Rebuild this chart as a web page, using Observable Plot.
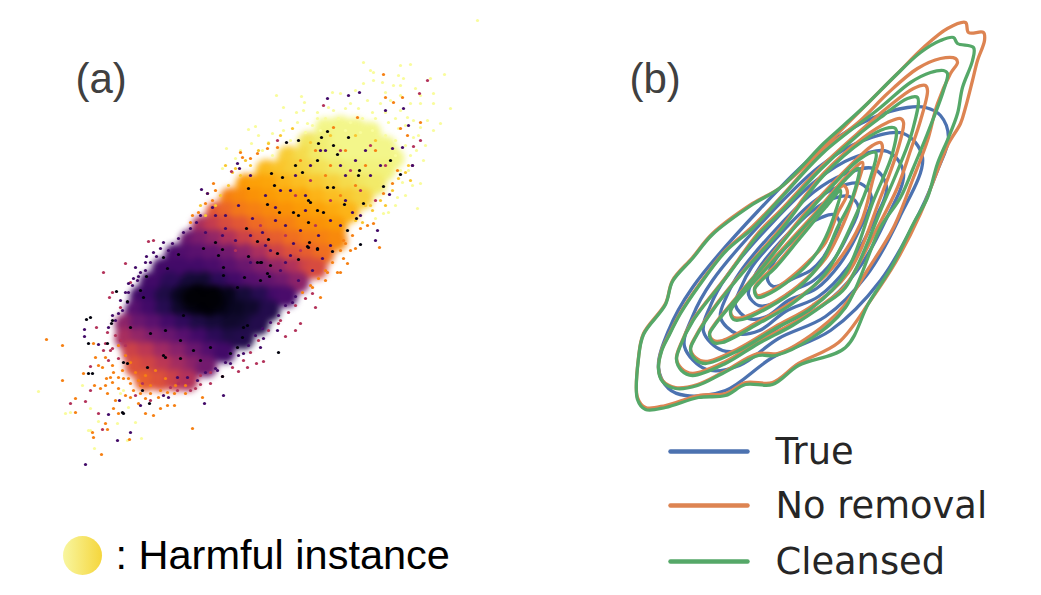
<!DOCTYPE html>
<html><head><meta charset="utf-8">
<script src="https://cdn.jsdelivr.net/npm/d3@7"></script>
<script src="https://cdn.jsdelivr.net/npm/@observablehq/plot@0.6"></script>
<style>html,body{margin:0;padding:0;background:#fff}svg{display:block}</style>
</head><body><div id="chart"></div>
<script>
// Panel (a): dense body of the cloud, [x, y, harm score]
const cloudBody = [
[325,128,.97],[340,126,.97],[355,128,.97],[370,132,.97],
[308,142,.93],[324,142,.95],[340,142,.97],[356,142,.97],[372,142,.97],[385,146,.97],
[288,156,.88],[303,156,.91],[318,156,.94],[333,156,.96],[349,156,.97],[365,156,.97],[381,156,.97],[393,158,.97],
[266,170,.84],[280,170,.86],[294,170,.88],[308,170,.9],[322,170,.92],[338,170,.94],[354,170,.95],[370,170,.96],[384,170,.96],
[246,184,.78],[258,184,.79],[271,184,.8],[285,184,.83],[301,184,.85],[317,184,.87],[333,184,.89],[349,184,.91],[364,184,.93],[375,184,.94],
[230,198,.72],[242,198,.74],[256,198,.76],[270,198,.78],[286,198,.79],[302,198,.8],[318,198,.83],[334,198,.85],[350,198,.87],[362,198,.89],
[216,212,.62],[228,212,.66],[241,212,.7],[255,212,.72],[271,212,.74],[287,212,.76],[303,212,.78],[319,212,.79],[335,212,.81],[348,212,.83],
[202,226,.45],[214,226,.52],[227,226,.58],[241,226,.62],[257,226,.67],[273,226,.7],[289,226,.72],[305,226,.75],[321,226,.76],[336,226,.78],
[190,240,.3],[202,240,.34],[216,240,.4],[230,240,.47],[246,240,.55],[262,240,.6],[278,240,.64],[294,240,.68],[310,240,.71],[326,240,.72],[336,240,.74],
[175,254,.22],[186,254,.24],[198,254,.26],[213,254,.28],[229,254,.32],[245,254,.38],[261,254,.46],[277,254,.55],[293,254,.6],[309,254,.64],[323,254,.68],
[162,268,.2],[180,268,.2],[198,268,.2],[214,268,.22],[230,268,.26],[246,268,.3],[262,268,.35],[278,268,.4],[294,268,.47],[308,268,.55],[316,268,.58],
[150,282,.2],[170,282,.15],[190,282,.1],[204,282,.09],[220,282,.15],[236,282,.2],[252,282,.25],[268,282,.28],[284,282,.32],[298,282,.38],
[140,296,.2],[150,296,.18],[165,296,.12],[181,296,.06],[197,296,.01],[213,296,.01],[229,296,.05],[245,296,.1],[261,296,.14],[277,296,.2],[286,296,.22],
[135,310,.25],[150,310,.2],[165,310,.14],[181,310,.08],[195,310,.05],[205,310,.03],[221,310,.04],[237,310,.06],[253,310,.08],[269,310,.13],
[125,324,.38],[140,324,.3],[155,324,.26],[170,324,.2],[185,324,.16],[200,324,.12],[216,324,.1],[232,324,.08],[248,324,.09],[258,324,.13],
[125,338,.45],[140,338,.4],[155,338,.34],[170,338,.3],[185,338,.25],[200,338,.2],[216,338,.15],[232,338,.12],[243,338,.13],
[132,352,.55],[147,352,.5],[163,352,.43],[179,352,.37],[195,352,.3],[211,352,.24],[224,352,.2],
[135,366,.6],[150,366,.56],[165,366,.5],[180,366,.44],[195,366,.38],[206,366,.32],
[145,380,.64],[160,380,.6],[175,380,.55],[187,380,.48]
];
const harmCore = [[203,300,0],[198,296,0],[208,303,0],[214,300,.01],[190,298,.01]];
// Panel (a): individually visible dots, one list per harm level
const dotsPale = [[477,20],[363,62],[370,70],[400,65],[410,64],[373,72],[398,75],[403,78],[430,78],[444,74],[363,83],[373,80],[385,92],[393,85],[400,95],[433,93],[420,95],[450,108],[433,103],[420,103],[410,103],[427,120],[440,123],[433,130],[420,127],[413,120],[420,183],[417,208],[405,195],[397,197],[383,213],[276,95],[283,107],[301,96],[304,102],[303,110],[317,112],[328,107],[332,92],[340,93],[350,103],[248,129],[255,126],[251,143],[226,148],[222,168],[272,133],[283,130],[297,122],[307,123],[317,118],[333,110],[367,100],[380,103],[390,100],[400,110],[407,117],[413,137],[423,160],[400,170],[395,155],[82,385],[65,413],[70,412],[90,408],[88,430],[90,430],[98,421],[135,422],[141,438],[94,448],[127,440],[117,423],[128,407],[120,393],[123,390],[38,391],[350,122],[362,118],[375,118],[388,122],[345,130],[360,132],[372,130],[385,135],[398,128],[405,145],[395,140],[410,155],[290,140],[305,132],[320,130],[262,150],[272,155],[345,108],[358,108],[372,112],[385,112],[395,118],[405,125],[418,135],[425,145],[416,150],[408,170],[412,185],[402,182],[395,205],[388,212],[375,218],[296,112],[312,125],[325,118],[338,118],[280,120],[268,142],[258,135],[240,150],[235,158],[400,85],[415,88],[382,82],[355,90]];
const dotsGold = [[250,165],[240,175],[228,185],[220,195],[258,150],[268,143],[280,135],[292,128],[245,160],[232,172],[215,205],[205,215],[200,205],[225,165],[235,168],[365,205],[372,210],[380,200],[385,205],[392,190],[398,178],[408,165],[410,180],[405,172],[355,220],[362,222],[370,205],[310,142],[330,135],[375,140],[355,135]];
const dotsOrange = [[46,339],[62,345],[62,380],[75,398],[75,412],[83,373],[93,343],[95,357],[98,365],[102,367],[105,357],[112,365],[113,372],[106,378],[110,377],[118,377],[123,378],[94,385],[100,388],[107,393],[115,400],[118,413],[113,408],[107,429],[105,423],[93,437],[101,454],[92,432],[129,439],[192,428],[202,397],[174,405],[167,405],[160,408],[153,415],[145,413],[138,403],[130,397],[133,390],[140,393],[150,393],[158,397],[167,392],[174,393],[185,393],[130,383],[138,380],[312,287],[320,297],[325,280],[327,272],[337,272],[340,272],[347,263],[355,248],[379,247],[343,258],[343,240],[350,250],[367,225],[373,223],[213,183],[207,193],[240,152],[242,157],[250,158],[257,153],[267,148],[277,147],[333,127],[357,117],[383,74],[385,97],[393,102],[402,97],[420,122],[400,128],[407,135],[392,183],[383,193],[397,170],[345,150],[365,165],[330,165],[315,150],[300,160],[375,150],[355,185],[340,195],[325,175],[118,345],[125,355],[130,362],[122,370],[135,372],[145,375],[155,370],[165,378],[175,385],[185,385],[150,385],[140,385],[128,378],[118,388],[112,382],[105,385],[125,395],[145,398],[160,390],[340,250],[332,262],[325,270],[318,278],[310,285],[302,292],[345,243],[352,235],[360,228],[215,190],[205,203],[198,212],[190,222],[192,215],[212,200]];
const dotsMagenta = [[103,272],[125,263],[153,240],[148,241],[70,403],[98,413],[102,429],[85,401],[90,366],[315,307],[300,323],[295,330],[285,336],[278,323],[263,361],[256,363],[247,367],[238,371],[222,376],[210,383],[200,384],[190,390],[177,390],[170,387],[112,292],[109,297],[120,307],[130,282],[96,327],[107,332],[105,343],[103,350],[110,350],[90,390],[427,80],[419,93],[323,105],[413,146],[412,165],[420,140],[231,171],[277,140],[340,150],[370,145],[385,165],[310,180],[295,195],[360,190],[350,170],[330,200],[375,200],[260,225],[285,235],[315,225],[235,250],[300,250],[295,305],[288,312],[280,320],[305,298],[312,293],[268,330],[258,340],[250,352],[243,360],[232,367],[120,340],[115,335],[112,348],[118,358],[125,345],[108,360],[200,375],[210,372],[188,382],[178,383],[195,388],[150,400],[135,395],[142,383]];
const dotsPurple = [[85,464],[117,440],[130,432],[204,403],[223,395],[84,329],[84,336],[98,344],[108,414],[119,400],[140,405],[163,395],[168,397],[135,267],[146,256],[163,242],[115,320],[118,313],[127,302],[128,283],[137,280],[277,330],[263,338],[260,347],[243,353],[230,363],[217,370],[197,380],[187,377],[177,377],[359,92],[348,95],[327,98],[403,108],[385,110],[408,125],[412,165],[402,147],[392,148],[389,194],[377,230],[375,240],[237,163],[239,168],[201,189],[207,193],[212,207],[320,150],[345,175],[370,175],[290,190],[305,210],[275,220],[250,235],[330,220],[290,255],[265,245],[225,215],[150,262],[156,256],[160,248],[168,250],[172,243],[178,238],[183,232],[190,228],[196,222],[200,215],[145,270],[138,276],[132,285],[125,292],[120,300],[112,315],[108,327],[215,215],[225,228],[238,205],[252,218],[262,232],[275,207],[285,225],[293,243],[305,195],[318,235],[330,245],[340,225],[352,212],[300,230],[270,250],[285,262],[250,262],[235,240],[222,235],[205,232],[322,258],[312,270],[298,280],[280,270],[345,200],[360,215],[355,160],[380,165],[365,150],[340,165],[325,150],[310,165],[295,175],[280,190],[265,195],[250,175],[295,296],[292,302],[285,305],[278,315],[270,322],[262,328],[255,335],[248,345],[238,355],[225,362],[215,368],[205,372],[145,262],[153,252],[140,272],[133,278],[122,310],[128,292]];
const dotsDark = [[327,131],[321,137],[348,137],[298,140],[286,142],[337,154],[318,143],[333,145],[295,165],[317,160],[400,174],[390,160],[358,175],[359,170],[302,172],[271,173],[274,185],[282,177],[248,188],[327,187],[333,187],[383,186],[308,200],[310,202],[323,212],[344,204],[363,203],[267,204],[293,212],[298,215],[279,212],[246,228],[317,210],[308,222],[356,218],[347,230],[360,244],[332,251],[317,248],[309,242],[307,246],[268,239],[257,241],[215,242],[222,249],[277,253],[248,256],[257,262],[261,262],[298,259],[223,275],[269,276],[244,277],[218,255],[260,262],[270,265],[308,247],[317,249],[278,352],[243,327],[247,325],[242,337],[222,376],[200,360],[163,355],[147,367],[123,362],[127,363],[88,373],[92,373],[86,319],[90,317],[112,320],[111,323],[88,343],[107,343],[116,291],[127,301],[163,257],[146,276],[178,254],[167,268],[140,290],[123,413],[122,412],[149,403],[142,390],[180,358],[165,357],[230,353],[237,347],[210,347],[193,350],[180,340],[165,330],[150,333],[130,327],[143,297],[183,315],[237,287],[260,280],[267,273],[223,267],[203,248]];
const dotLevels = {pale:.99, gold:.87, orange:.72, magenta:.48, purple:.2, dark:.02};

// Panel (b): density contours, seven levels per estimate
const trueLevels = [
[[658,367],[668,388],[685,395],[725,390],[772,357],[830,330],[880,280],[920,210],[937,170],[948,137],[940,115],[925,107],[907,107],[873,117],[823,147],[758,210],[692,287],[668,330]],
[[684,346],[706,369],[739,365],[778,338],[825,316],[866,275],[899,217],[922,157],[903,133],[860,141],[819,166],[766,217],[712,280],[692,316]],
[[703,331],[722,350],[749,347],[782,324],[822,305],[856,271],[884,222],[903,172],[887,151],[851,158],[817,179],[772,222],[726,276],[710,305]],
[[720,317],[736,333],[759,330],[785,311],[818,296],[847,267],[870,227],[886,186],[873,168],[843,174],[814,191],[777,227],[740,271],[726,296]],
[[735,305],[748,318],[766,316],[788,300],[816,288],[839,264],[858,231],[871,197],[860,183],[836,187],[812,202],[782,231],[751,267],[740,288]],
[[748,294],[758,305],[773,303],[791,291],[813,280],[832,261],[847,235],[858,207],[849,196],[830,199],[811,211],[786,235],[761,264],[752,280]],
[[767,279],[773,286],[795,277],[810,270],[822,258],[832,240],[839,222],[833,214],[821,217],[808,224],[792,240],[775,259],[769,270]]
];
const noRemovalLevels = [
[[965,22],[968,32],[983,32],[984,40],[977,60],[972,80],[965,107],[960,123],[948,143],[937,170],[920,213],[895,262],[870,300],[838,342],[798,363],[772,382],[745,382],[725,393],[698,395],[665,405],[645,407],[637,397],[638,357],[643,333],[665,303],[672,280],[692,257],[712,233],[752,203],[780,187],[823,147],[847,123],[870,100],[897,73],[923,47],[947,28]],
[[955,58],[957,62],[950,73],[937,103],[927,140],[913,177],[893,227],[868,268],[843,306],[810,335],[777,353],[757,353],[722,372],[697,384],[675,387],[662,380],[658,368],[661,350],[668,335],[680,312],[698,285],[725,250],[752,226],[780,197],[823,150],[860,120],[887,93],[917,68],[940,58]],
[[925,85],[927,90],[920,120],[910,150],[897,187],[877,227],[845,285],[825,302],[792,323],[758,341],[725,361],[692,373],[681,368],[676,358],[680,344],[692,320],[725,277],[758,232],[780,210],[820,167],[857,133],[887,107],[913,88]],
[[900,118],[903,122],[897,150],[880,197],[848,272],[812,305],[775,326],[738,348],[705,361],[695,357],[690,348],[695,336],[715,305],[745,268],[780,228],[823,173],[863,137],[887,122]],
[[880,142],[882,147],[873,177],[860,223],[828,272],[792,301],[758,321],[722,340],[713,340],[709,333],[714,324],[735,298],[765,262],[800,218],[835,180],[860,155],[872,145]],
[[862,162],[855,190],[843,223],[825,258],[798,285],[768,305],[742,317],[733,317],[730,310],[736,300],[755,278],[785,245],[815,212],[845,177]],
[[843,185],[847,192],[837,213],[825,242],[808,261],[785,281],[765,293],[757,295],[754,288],[760,279],[775,265],[800,235],[825,205]]
];
const cleansedLevels = [
[[953,37],[957,43],[973,47],[972,60],[962,87],[957,113],[948,137],[937,163],[927,197],[913,223],[892,265],[868,303],[845,347],[798,365],[772,384],[745,384],[725,395],[698,397],[665,407],[645,409],[637,399],[638,358],[643,334],[665,304],[672,281],[692,258],[712,234],[752,204],[780,187],[823,143],[843,125],[867,103],[893,77],[920,52],[940,40]],
[[943,70],[947,73],[943,90],[927,133],[913,167],[900,197],[880,227],[845,307],[812,337],[775,355],[758,355],[722,373],[697,385],[675,388],[662,381],[658,369],[661,351],[668,336],[680,313],[698,286],[725,251],[752,228],[780,198],[823,152],[880,107],[910,82],[930,72]],
[[917,97],[912,130],[900,163],[883,203],[845,287],[825,303],[792,325],[758,343],[725,363],[692,375],[681,370],[676,359],[680,345],[692,321],[725,278],[758,234],[780,212],[820,169],[857,135],[880,117],[907,98]],
[[895,128],[892,153],[873,200],[845,273],[812,307],[775,328],[738,350],[705,363],[695,359],[690,349],[695,337],[715,306],[745,269],[780,230],[823,175],[863,140],[885,128]],
[[875,152],[870,177],[853,220],[825,273],[792,303],[758,323],[722,342],[713,342],[709,334],[714,325],[735,299],[765,263],[800,220],[835,182],[860,158]],
[[858,168],[852,197],[837,227],[822,260],[798,287],[768,307],[742,319],[733,319],[730,311],[736,301],[755,280],[785,247],[815,214],[845,179]],
[[840,190],[833,217],[822,243],[808,263],[785,283],[765,295],[757,297],[754,289],[760,281],[775,267],[800,237],[825,207]]
];
const seriesNames = ["True", "No removal", "Cleansed"];
const seriesColors = ["#4c72b0", "#dd8452", "#55a868"];
const legendX = [670, 747];
const legendY = [451, 505, 561];
const panelLabels = [{t:"(a)", x:75, y:79}, {t:"(b)", x:629, y:79}];

const toDot = v => ([x, y]) => ({x, y, v});
const dots = [
  ...dotsPale.map(toDot(dotLevels.pale)), ...dotsGold.map(toDot(dotLevels.gold)), ...dotsOrange.map(toDot(dotLevels.orange)),
  ...dotsMagenta.map(toDot(dotLevels.magenta)), ...dotsPurple.map(toDot(dotLevels.purple)),
  ...dotsDark.map(toDot(dotLevels.dark))
];
const body = cloudBody.map(([x, y, v]) => ({x, y, v}));
const core = harmCore.map(([x, y, v]) => ({x, y, v}));
const contours = [trueLevels, noRemovalLevels, cleansedLevels].flatMap((levels, s) =>
  levels.flatMap((pts, l) => pts.map(([x, y]) => ({x, y, key: s + "-" + l, series: seriesNames[s]}))));
const legendRows = seriesNames.flatMap((name, i) => legendX.map(x => ({x, y: legendY[i], name})));

const gradient = () => {
  const svg = d3.create("svg:g");
  const g = svg.append("defs").append("linearGradient").attr("id", "harm");
  g.append("stop").attr("offset", "0").attr("stop-color", "#f8f6a0");
  g.append("stop").attr("offset", "1").attr("stop-color", "#f5d63c");
  return svg.node();
};

const chart = Plot.plot({
  width: 1041, height: 595, margin: 0,
  x: {domain: [0, 1041], range: [0, 1041], axis: null},
  y: {domain: [0, 595], range: [0, 595], axis: null},
  color: {type: "linear", scheme: "inferno", domain: [0, 1]},
  style: {background: "#fff"},
  marks: [
    gradient,
    Plot.dot(body, {x: "x", y: "y", r: 11, fill: "v", imageFilter: "blur(3px)"}),
    Plot.dot(core, {x: "x", y: "y", r: 10, fill: "v", imageFilter: "blur(5px)"}),
    Plot.dot(dots, {x: "x", y: "y", r: 1.6, fill: "v"}),
    ...seriesNames.map((name, i) => Plot.line(contours.filter(d => d.series === name), {
      x: "x", y: "y", z: "key", curve: "catmull-rom-closed",
      stroke: seriesColors[i], strokeWidth: 3.3
    })),
    ...seriesNames.map((name, i) => Plot.line(legendRows.filter(d => d.name === name), {
      x: "x", y: "y", stroke: seriesColors[i], strokeWidth: 4.5, strokeLinecap: "round"
    })),
    Plot.text(seriesNames.map((name, i) => ({name, x: 775, y: legendY[i] + 1})), {
      x: "x", y: "y", text: "name", textAnchor: "start", fontFamily: "DejaVu Sans",
      fontSize: 36.8, fill: "#262626"
    }),
    Plot.text(panelLabels, {x: "x", y: "y", text: "t", textAnchor: "start",
      fontFamily: "Liberation Sans", fontSize: 42, fill: "#404040"}),
    Plot.dot([{x: 82, y: 555}], {x: "x", y: "y", r: 19.5, fill: "url(#harm)"}),
    Plot.text([{t: ": Harmful instance", x: 115, y: 555}], {x: "x", y: "y", text: "t", textAnchor: "start",
      fontFamily: "Liberation Sans", fontSize: 41.5, fill: "#000"})
  ]
});
document.getElementById("chart").append(chart);
</script></body></html>
